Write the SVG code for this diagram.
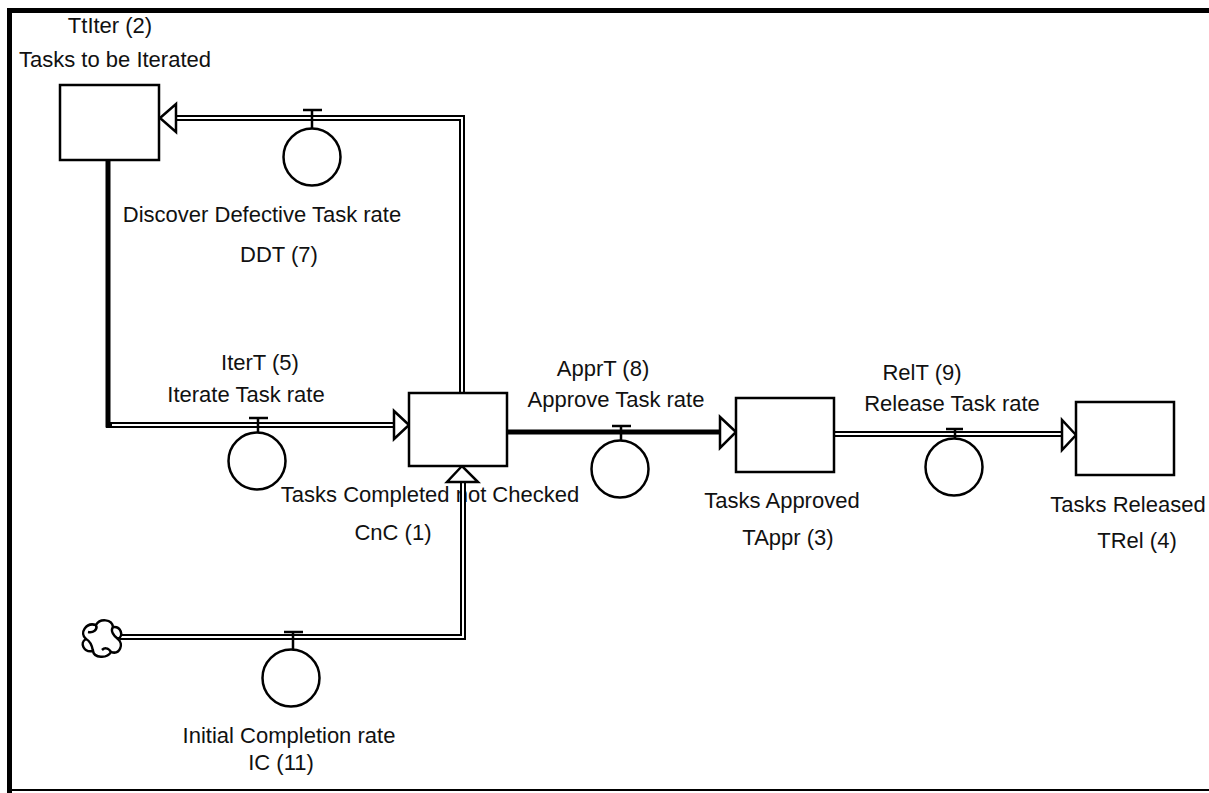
<svg xmlns="http://www.w3.org/2000/svg" width="1209" height="793" viewBox="0 0 1209 793">
<style>
.stock{fill:#fff;stroke:#000;stroke-width:2.5}
.valve circle{fill:#fff;stroke:#000;stroke-width:2.5}
.valve line{stroke:#000;stroke-width:2.5}
.lbl{font-family:"Liberation Sans",Arial,sans-serif;font-size:22px;fill:#111;text-anchor:middle}
.outer{fill:none;stroke:#000;stroke-width:6}
.inner{fill:none;stroke:#fff;stroke-width:2}
.head{fill:#fff;stroke:#000;stroke-width:2.5;stroke-linejoin:miter}
.frame{stroke:#000;fill:none}
</style>
<rect width="1209" height="793" fill="#fff"/>
<g id="frame">
<line class="frame" x1="7" y1="10.5" x2="1209" y2="10.5" stroke-width="5"/>
<line class="frame" x1="9.5" y1="8" x2="9.5" y2="793" stroke-width="5"/>
<line class="frame" x1="7" y1="790" x2="1209" y2="790" stroke-width="2"/>
</g>
<g id="labels">
<text class="lbl" x="110" y="33">TtIter (2)</text>
<text class="lbl" x="115" y="67">Tasks to be Iterated</text>
<text class="lbl" x="262" y="222">Discover Defective Task rate</text>
<text class="lbl" x="279" y="262">DDT (7)</text>
<text class="lbl" x="260" y="370">IterT (5)</text>
<text class="lbl" x="246" y="402">Iterate Task rate</text>
<text class="lbl" x="430" y="502">Tasks Completed not Checked</text>
<text class="lbl" x="393" y="540">CnC (1)</text>
<text class="lbl" x="603" y="376">ApprT (8)</text>
<text class="lbl" x="616" y="407">Approve Task rate</text>
<text class="lbl" x="782" y="508">Tasks Approved</text>
<text class="lbl" x="788" y="545">TAppr (3)</text>
<text class="lbl" x="922" y="380">RelT (9)</text>
<text class="lbl" x="952" y="411">Release Task rate</text>
<text class="lbl" x="1128" y="512">Tasks Released</text>
<text class="lbl" x="1137" y="548">TRel (4)</text>
<text class="lbl" x="289" y="743">Initial Completion rate</text>
<text class="lbl" x="281" y="770">IC (11)</text>
</g>
<g id="connectors">
<!-- DDT flow: CnC -> TtIter -->
<path class="outer" d="M462,393 V118 H175"/>
<path class="inner" d="M462,393 V118 H175"/>
<polygon class="head" points="160,118 176,104 176,132"/>
<!-- IterT flow: TtIter -> CnC -->
<path fill="none" stroke="#000" stroke-width="5" d="M108,160 V427.5"/>
<path class="outer" d="M106,425 H395"/>
<path class="inner" d="M112,425 H395"/>
<polygon class="head" points="409,425 394,411 394,439"/>
<!-- IC flow: cloud -> CnC -->
<path class="outer" d="M120,637 H463 V482"/>
<path class="inner" d="M120,637 H463 V482"/>
<polygon class="head" points="462,466 447,482 478,482"/>
<!-- ApprT flow: CnC -> TAppr -->
<path fill="none" stroke="#000" stroke-width="5" d="M507,432 H720"/>
<polygon class="head" points="736,432 720,417 720,448"/>
<!-- RelT flow: TAppr -> TRel -->
<path class="outer" stroke-width="7" d="M834,434 H1063"/>
<path class="inner" d="M834,434 H1063"/>
<polygon class="head" points="1076,435 1062,420 1062,450"/>
</g>
<g id="cloud">
<path fill="#fff" stroke="#000" stroke-width="2.5" d="M96,625 C100,618 112,619 113,627 C121,626 124,636 118,639 C124,644 120,655 111,652 C107,659 94,658 93,651 C84,653 79,643 86,639 C79,633 86,622 96,625 Z M96,625 C98,630 93,633 88,632 M113,627 C110,631 114,636 118,639 M111,652 C108,647 104,648 102,650 M86,639 C90,641 92,645 93,651"/>
</g>
<g id="TtIter"><rect class="stock" x="60" y="85" width="99" height="75"/></g>
<g id="CnC"><rect class="stock" x="409" y="393" width="98" height="73"/></g>
<g id="TAppr"><rect class="stock" x="736" y="398" width="98" height="74"/></g>
<g id="TRel"><rect class="stock" x="1076" y="402" width="98" height="73"/></g>
<g id="DDT" class="valve"><line x1="303" y1="110" x2="322" y2="110"/><line x1="312" y1="110" x2="312" y2="128"/><circle cx="312" cy="157" r="28.5"/></g>
<g id="IterT" class="valve"><line x1="249" y1="418" x2="268" y2="418"/><line x1="258" y1="418" x2="258" y2="433"/><circle cx="257" cy="461" r="28.5"/></g>
<g id="ApprT" class="valve"><line x1="612" y1="426" x2="631" y2="426"/><line x1="621" y1="426" x2="621" y2="440"/><circle cx="620" cy="469" r="28.5"/></g>
<g id="RelT" class="valve"><line x1="946" y1="429" x2="963" y2="429" stroke-width="4"/><line x1="955" y1="429" x2="955" y2="438"/><circle cx="954" cy="467" r="28.5"/></g>
<g id="IC" class="valve"><line x1="284" y1="632" x2="303" y2="632"/><line x1="293" y1="632" x2="293" y2="650"/><circle cx="291" cy="678" r="28.5"/></g>
</svg>
